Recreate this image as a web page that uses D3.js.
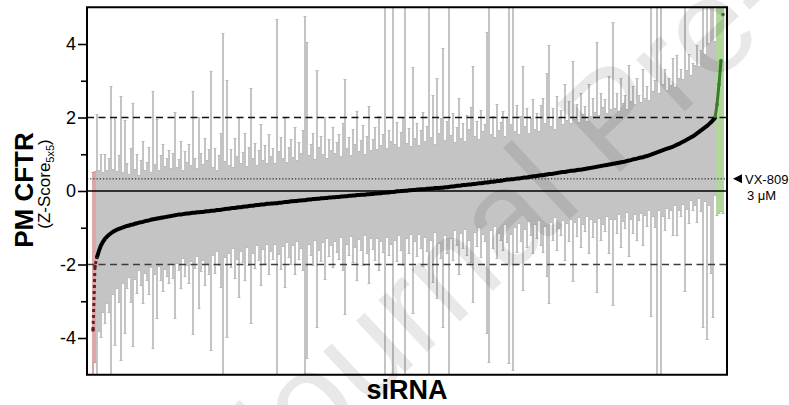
<!DOCTYPE html>
<html><head><meta charset="utf-8">
<script src="https://cdn.jsdelivr.net/npm/d3@7"></script>
<style>
body{margin:0;background:#fff}
svg{display:block}
text{font-family:"Liberation Sans",Arial,Helvetica,sans-serif}
</style>
</head><body>
<svg id="c" width="789" height="405"></svg>
<script>
// Sorted siRNA Z-scores (5x5), left to right
const zScore = [
-3.78,-2.05,-1.80,-1.62,-1.48,-1.38,-1.30,-1.24,-1.19,-1.15,-1.11,-1.08,-1.05,-1.03,-1.01,-0.99,-0.97,-0.95,-0.94,-0.92,
-0.91,-0.89,-0.88,-0.86,-0.85,-0.84,-0.82,-0.81,-0.80,-0.78,-0.77,-0.76,-0.75,-0.74,-0.73,-0.72,-0.71,-0.70,-0.69,-0.68,
-0.67,-0.66,-0.65,-0.64,-0.64,-0.63,-0.62,-0.61,-0.61,-0.60,-0.59,-0.59,-0.58,-0.58,-0.57,-0.57,-0.56,-0.55,-0.55,-0.54,
-0.54,-0.53,-0.52,-0.52,-0.51,-0.50,-0.49,-0.48,-0.48,-0.47,-0.46,-0.46,-0.45,-0.44,-0.44,-0.43,-0.42,-0.42,-0.41,-0.40,
-0.40,-0.39,-0.38,-0.38,-0.37,-0.37,-0.36,-0.35,-0.35,-0.34,-0.34,-0.33,-0.33,-0.32,-0.32,-0.31,-0.30,-0.30,-0.29,-0.28,
-0.28,-0.27,-0.27,-0.26,-0.26,-0.25,-0.25,-0.24,-0.23,-0.23,-0.22,-0.22,-0.21,-0.21,-0.20,-0.20,-0.19,-0.19,-0.18,-0.18,
-0.17,-0.17,-0.16,-0.16,-0.15,-0.15,-0.14,-0.14,-0.13,-0.13,-0.12,-0.12,-0.11,-0.11,-0.10,-0.10,-0.10,-0.09,-0.09,-0.08,
-0.08,-0.07,-0.07,-0.06,-0.06,-0.05,-0.05,-0.04,-0.04,-0.03,-0.03,-0.02,-0.01,-0.01,0.00,0.00,0.01,0.01,0.02,0.02,
0.03,0.03,0.04,0.04,0.05,0.05,0.05,0.06,0.06,0.07,0.07,0.08,0.08,0.08,0.09,0.09,0.10,0.10,0.11,0.12,
0.12,0.13,0.14,0.14,0.15,0.16,0.16,0.17,0.18,0.18,0.19,0.19,0.20,0.21,0.21,0.22,0.23,0.23,0.24,0.25,
0.25,0.26,0.27,0.27,0.28,0.29,0.30,0.31,0.31,0.32,0.32,0.33,0.34,0.34,0.35,0.36,0.37,0.37,0.38,0.39,
0.40,0.40,0.41,0.42,0.43,0.43,0.44,0.45,0.46,0.46,0.47,0.48,0.49,0.50,0.51,0.52,0.52,0.53,0.54,0.55,
0.55,0.56,0.57,0.58,0.58,0.59,0.60,0.61,0.62,0.63,0.64,0.65,0.66,0.67,0.68,0.69,0.70,0.71,0.72,0.73,
0.74,0.75,0.76,0.77,0.78,0.79,0.80,0.82,0.83,0.84,0.86,0.87,0.88,0.90,0.91,0.92,0.94,0.95,0.97,0.99,
1.01,1.03,1.05,1.07,1.09,1.11,1.13,1.15,1.17,1.19,1.21,1.23,1.26,1.28,1.31,1.34,1.37,1.40,1.43,1.46,
1.49,1.53,1.57,1.61,1.65,1.69,1.73,1.77,1.82,1.87,1.93,1.99,2.35,2.90,3.55,4.80
];
// Standard deviation (error bar half-length) for each siRNA
const zSD = [
4.3,2.6,3.9,2.2,2.5,1.9,2.3,1.8,2.1,4.0,1.7,3.1,1.6,2.0,3.6,1.5,2.9,1.7,1.4,2.1,
3.3,1.5,1.9,1.3,1.7,2.2,1.4,1.6,2.0,1.3,3.5,1.5,2.7,1.3,1.7,2.0,1.4,1.6,1.8,1.3,
1.7,2.8,1.3,1.5,2.0,1.2,1.7,1.4,1.9,1.3,3.3,1.5,1.2,2.6,1.6,1.3,2.0,1.4,1.7,3.8,
1.2,1.7,1.1,1.5,2.1,4.8,1.3,3.5,1.2,1.6,1.1,1.9,1.4,2.45,1.2,1.5,2.0,1.1,1.6,3.2,
1.3,1.7,1.1,1.5,2.2,1.2,1.6,1.1,1.9,1.3,1.5,1.1,5.0,1.4,1.8,1.2,2.3,1.1,1.5,1.7,
1.2,2.0,1.1,1.6,1.3,1.9,5.0,4.3,1.2,1.5,1.8,1.1,3.5,1.4,1.7,1.2,2.2,1.1,1.6,1.3,
1.9,1.2,1.5,1.7,1.1,2.0,3.2,1.3,1.6,1.1,1.8,1.4,2.3,1.2,1.5,1.9,1.1,1.6,2.4,1.2,
1.5,1.8,1.2,2.1,1.3,1.6,5.5,1.2,1.7,1.4,5.3,1.3,1.9,1.2,1.6,2.0,5.2,1.3,1.7,1.2,
3.35,1.4,1.8,1.2,1.6,2.1,1.3,1.7,5.2,1.4,2.55,1.2,3.0,1.5,1.9,3.8,1.3,1.8,5.1,1.4,
2.0,1.2,1.6,2.4,1.3,1.7,1.2,1.9,1.5,2.1,3.2,1.3,1.7,1.2,2.0,1.4,1.6,4.1,4.9,1.3,
1.8,1.2,2.1,1.4,1.6,1.9,1.2,1.7,5.0,1.5,5.2,1.3,2.0,1.2,1.7,3.05,1.4,1.9,1.2,1.6,
2.1,1.3,1.7,1.2,1.9,2.1,1.4,2.75,3.5,1.3,1.8,1.2,2.1,1.5,1.7,1.3,2.4,1.4,1.9,1.3,
3.0,1.4,1.8,1.3,2.1,1.5,1.7,1.3,2.3,1.4,1.9,1.5,3.4,1.4,2.0,1.6,1.8,1.4,2.4,1.5,
3.85,1.5,1.9,1.4,2.3,1.6,1.8,1.4,2.6,1.6,2.0,1.5,2.2,1.7,1.5,2.4,1.6,1.9,1.5,4.4,
1.7,2.0,6.1,1.6,6.1,1.8,2.2,1.6,1.9,1.7,2.4,1.6,2.45,1.8,2.0,1.7,4.1,1.9,2.3,1.7,
2.0,1.9,2.4,1.8,2.2,5.4,2.0,5.8,2.2,4.1,5.35,2.1,3.0,3.5,4.1,5.4
];
const yTicks = [-4, -2, 0, 2, 4];
const yMinorTicks = [-3, -1, 1, 3];
const hitThresholds = [-2, 2];
const vx809Level = 0.33;
const yLabel = "PM CFTR";
const yLabelSub = ["(Z-Score", "5x5", ")"];
const xLabel = "siRNA";
const refLabel = ["VX-809", "3 μM"];
const watermark = "Journal Pre-proof";

const svg = d3.select("#c");
const L = 87, R = 727, T = 7.25, B = 374.75;
const y = d3.scaleLinear().domain([-5, 5]).range([B, T]);
const x = d3.scaleLinear().domain([0, zScore.length - 1]).range([93, 723]);
const data = zScore.map((z, i) => ({i, z, sd: zSD[i]}));

svg.append("rect").attr("width", 789).attr("height", 405).attr("fill", "#fff");

svg.append("defs").append("clipPath").attr("id", "clip")
  .append("rect").attr("x", L).attr("y", T).attr("width", R - L).attr("height", B - T);

const barCol = d => d.z < hitThresholds[0] ? "#dba8a8" : d.z > hitThresholds[1] ? "#b3d59f" : "#c4c4c4";
const capCol = d => d.z < hitThresholds[0] ? "#cf9999" : d.z > hitThresholds[1] ? "#a2c98c" : "#bababa";

const gb = svg.append("g").attr("clip-path", "url(#clip)");
gb.selectAll("line.bar").data(data).join("line").attr("class", "bar")
  .attr("x1", d => x(d.i)).attr("x2", d => x(d.i))
  .attr("y1", d => y(d.z + d.sd)).attr("y2", d => y(d.z - d.sd))
  .attr("stroke", barCol).attr("stroke-width", 2).attr("shape-rendering", "crispEdges");
["top", "bot"].forEach(k => {
  gb.selectAll("line.cap" + k).data(data).join("line").attr("class", "cap" + k)
    .attr("x1", d => x(d.i) - 1.5).attr("x2", d => x(d.i) + 1.5)
    .attr("y1", d => Math.round(y(k === "top" ? d.z + d.sd : d.z - d.sd)) + 0.5)
    .attr("y2", d => Math.round(y(k === "top" ? d.z + d.sd : d.z - d.sd)) + 0.5)
    .attr("stroke", capCol).attr("stroke-width", 1);
});

// reference lines
svg.selectAll("line.thr").data(hitThresholds).join("line").attr("class", "thr")
  .attr("x1", L).attr("x2", R).attr("y1", d => y(d)).attr("y2", d => y(d))
  .attr("stroke", d => d < 0 ? "#3c3c3c" : "#111").attr("stroke-width", 1.4)
  .attr("stroke-dasharray", "7,4.5");
svg.append("line").attr("x1", L).attr("x2", R).attr("y1", y(0)).attr("y2", y(0))
  .attr("stroke", "#000").attr("stroke-width", 1.5);
svg.append("line").attr("x1", L).attr("x2", R).attr("y1", y(vx809Level)).attr("y2", y(vx809Level))
  .attr("stroke", "#000").attr("stroke-width", 1).attr("stroke-dasharray", "1.2,2");

// curve
const line = d3.line().x(d => x(d.i)).y(d => y(d.z));
const low = data.filter(d => d.z < hitThresholds[0]);
const high = data.filter(d => d.z > hitThresholds[1]);
const mid = data.filter(d => d.z >= hitThresholds[0] && d.z <= hitThresholds[1]);
svg.append("path").datum(mid).attr("d", line).attr("fill", "none")
  .attr("stroke", "#000").attr("stroke-width", 4).attr("stroke-linecap", "round");
svg.append("path").datum(low.concat([mid[0]])).attr("d", line).attr("fill", "none")
  .attr("stroke", "#6e1a1a").attr("stroke-width", 3).attr("stroke-dasharray", "3,3");
svg.append("path").datum([mid[mid.length - 1]].concat(high.slice(0, high.length - 1))).attr("d", line).attr("fill", "none")
  .attr("stroke", "#3b7d2b").attr("stroke-width", 3);
svg.selectAll("circle.hit").data(low.concat(high)).join("circle").attr("class", "hit")
  .attr("cx", d => x(d.i)).attr("cy", d => y(d.z)).attr("r", 1.8)
  .attr("fill", d => d.z < 0 ? "#6e1a1a" : "#3b7d2b");

// frame
svg.append("rect").attr("x", L).attr("y", T).attr("width", R - L).attr("height", B - T)
  .attr("fill", "none").attr("stroke", "#000").attr("stroke-width", 2);

// y axis
const ax = svg.append("g").attr("transform", `translate(${L - 1},0)`)
  .call(d3.axisLeft(y).tickValues(yTicks).tickSize(8).tickPadding(2).tickFormat(d => String(d)));
ax.select(".domain").remove();
ax.selectAll(".tick line").attr("stroke", "#000").attr("stroke-width", 1.6);
ax.selectAll(".tick text").attr("font-size", 18).attr("fill", "#000")
  .style("font-family", '"Liberation Sans",Arial,sans-serif');
const axm = svg.append("g").attr("transform", `translate(${L - 1},0)`)
  .call(d3.axisLeft(y).tickValues(yMinorTicks).tickSize(5).tickFormat(""));
axm.select(".domain").remove();
axm.selectAll(".tick line").attr("stroke", "#000").attr("stroke-width", 1.6);

// axis titles
svg.append("text").attr("transform", "translate(33,190) rotate(-90)")
  .attr("text-anchor", "middle").attr("font-size", 26).attr("font-weight", "bold").text(yLabel);
const sub = svg.append("text").attr("transform", "translate(50,184) rotate(-90)")
  .attr("text-anchor", "middle").attr("font-size", 17);
sub.append("tspan").text(yLabelSub[0]);
sub.append("tspan").attr("font-size", 11).attr("dy", 4).text(yLabelSub[1]);
sub.append("tspan").attr("dy", -4).text(yLabelSub[2]);
svg.append("text").attr("x", 407).attr("y", 399).attr("text-anchor", "middle")
  .attr("font-size", 27).attr("font-weight", "bold").text(xLabel);

// VX-809 reference marker
const ry = y(vx809Level);
svg.append("path").attr("d", `M733,${ry} L742,${ry - 4.5} L742,${ry + 4.5} Z`).attr("fill", "#000");
svg.append("text").attr("x", 745).attr("y", ry + 5).attr("font-size", 13).text(refLabel[0]);
svg.append("text").attr("x", 747).attr("y", ry + 21).attr("font-size", 13).text(refLabel[1]);

// watermark
svg.append("text").attr("transform", "translate(261,507) rotate(-43)")
  .attr("font-size", 135).attr("fill", "#000").attr("fill-opacity", 0.09).text(watermark);
</script>
</body></html>
